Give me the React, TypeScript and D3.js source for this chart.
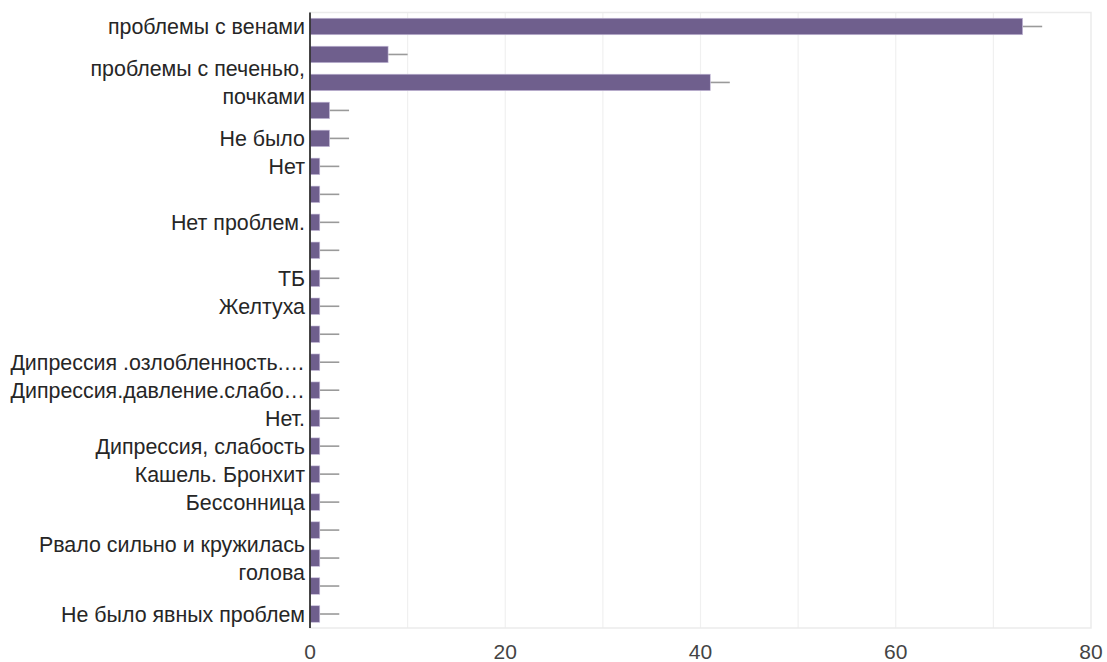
import * as React from 'react';
import * as d3 from 'd3';

const categories: string[][] = [
  ['проблемы с венами'],
  [],
  ['проблемы с печенью,', 'почками'],
  [],
  ['Не было'],
  ['Нет'],
  [],
  ['Нет проблем.'],
  [],
  ['ТБ'],
  ['Желтуха'],
  [],
  ['Дипрессия .озлобленность.…'],
  ['Дипрессия.давление.слабо…'],
  ['Нет.'],
  ['Дипрессия, слабость'],
  ['Кашель. Бронхит'],
  ['Бессонница'],
  [],
  ['Рвало сильно и кружилась', 'голова'],
  [],
  ['Не было явных проблем'],
];

const values: number[] = [73, 8, 41, 2, 2, 1, 1, 1, 1, 1, 1, 1, 1, 1, 1, 1, 1, 1, 1, 1, 1, 1];
// upper end of the error bar
const errHigh: number[] = [75, 10, 43, 4, 4, 3, 3, 3, 3, 3, 3, 3, 3, 3, 3, 3, 3, 3, 3, 3, 3, 3];

const xTicks = [0, 20, 40, 60, 80];
const gridTicks = [10, 20, 30, 40, 50, 60, 70];

const width = 1107;
const height = 662;
const margin = {top: 12.5, right: 16, bottom: 34, left: 310};
const barColor = '#6f5f8d';
const font = '"Liberation Sans", Arial, sans-serif';

export default function App() {
  const x = d3.scaleLinear()
    .domain([0, 80])
    .range([margin.left, width - margin.right]);

  const y = d3.scaleBand<number>()
    .domain(d3.range(values.length))
    .range([margin.top, height - margin.bottom])
    .paddingInner(0.41)
    .paddingOuter(0.205);

  const bottom = height - margin.bottom;
  const step = y.step();

  return (
    <div style={{position: 'absolute', left: 0, top: 0}}>
      <svg width={width} height={height} style={{display: 'block', background: '#fff'}} fontFamily={font}>
        {/* grid */}
        {gridTicks.map((t) => (
          <line key={'g' + t} x1={x(t)} x2={x(t)} y1={margin.top} y2={bottom} stroke='#f0f0f0' strokeWidth={1.2} />
        ))}
        <rect x={margin.left} y={margin.top} width={x(80) - margin.left} height={bottom - margin.top}
          fill='none' stroke='#ebebeb' strokeWidth={1.5} />

        {/* error bars */}
        {values.map((v, i) => (
          <line key={'e' + i} x1={x(v)} x2={x(errHigh[i])}
            y1={y(i)! + y.bandwidth() / 2} y2={y(i)! + y.bandwidth() / 2}
            stroke='#9a9a9a' strokeWidth={1.6} />
        ))}

        {/* bars */}
        {values.map((v, i) => (
          <rect key={'b' + i} x={x(0)} y={y(i)} width={x(v) - x(0)} height={y.bandwidth()}
            fill={barColor} stroke='#c9bfdc' strokeWidth={0.6} />
        ))}

        {/* y axis */}
        <line x1={margin.left} x2={margin.left} y1={margin.top} y2={bottom} stroke='#333' strokeWidth={1.8} />

        {/* category labels */}
        {categories.map((lines, i) => {
          const cy = y(i)! + y.bandwidth() / 2;
          return lines.map((ln, j) => (
            <text key={'c' + i + '-' + j} x={margin.left - 5}
              y={cy + (j - (lines.length - 1) / 2) * step}
              dy='0.35em' textAnchor='end' fontSize={21.4} fill='#262626'>{ln}</text>
          ));
        })}

        {/* x tick labels */}
        {xTicks.map((t) => (
          <text key={'t' + t} x={x(t)} y={bottom + 24} dy='0.35em' textAnchor='middle'
            fontSize={21} fill='#444'>{t}</text>
        ))}
      </svg>
    </div>
  );
}
